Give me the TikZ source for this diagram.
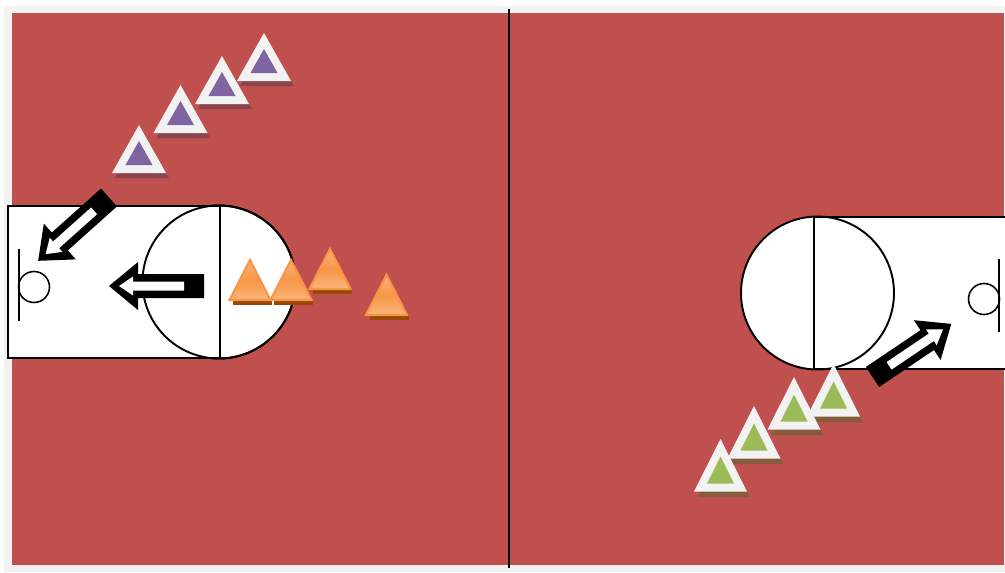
\documentclass[tikz,border=0pt]{standalone}
\usepackage{tikz}
\definecolor{courtred}{HTML}{C0504D}
\definecolor{framegrey}{HTML}{F2F2F2}
\definecolor{purplecone}{HTML}{8064A2}
\definecolor{purpleshadow}{HTML}{8A4450}
\definecolor{greencone}{HTML}{9BBB59}
\definecolor{greenshadow}{HTML}{875C3E}
\definecolor{orangecone}{HTML}{F79646}
\definecolor{orangelight}{HTML}{FBB57F}
\definecolor{orangeshadow}{HTML}{984807}
\tikzset{
  court/.style={draw=black,fill=white,line width=1.1pt},
  courtline/.style={black,line width=1.1pt},
  goalline/.style={black,line width=.9pt},
  passarrow/.pic={
    \fill[black] (0,-12)--(66,-12)--(66,-24)--(95,0)--(66,24)--(66,12)--(0,12)--cycle;
    \fill[white] (20,-4.5)--(71,-4.5)--(71,-9.5)--(85,0)--(71,9.5)--(71,4.5)--(20,4.5)--cycle;
  }
}
\begin{document}
\begin{tikzpicture}[x=0.02cm,y=-0.02cm]
\useasboundingbox (0,0) rectangle (1005,572);
% court
\fill[framegrey] (4,6) rectangle (1005,572);
\fill[courtred] (12,13) rectangle (1004,565);
\draw[black,line width=1.1pt] (509,9)--(509,568);
% left end
\draw[court] (219,282) circle (76.5);
\draw[court] (220,206)--(8,206)--(8,358)--(220,358);
\draw[court,fill=none] (219,282) circle (76.5);
\draw[courtline] (220,206)--(220,358);
\draw[goalline] (19,249)--(19,321);
\draw[goalline] (34,287) circle (15.5);
% right end
\fill[white] (814,217) rectangle (1005,369);
\draw[court] (817.5,293) circle (76.5);
\draw[courtline] (814,217)--(1005,217);
\draw[courtline] (814,369)--(1005,369);
\draw[courtline] (814,217)--(814,369);
\draw[goalline] (999,259)--(999,332);
\draw[goalline] (984,299) circle (15.5);
% purple cones
\foreach \cx/\cy in {264/33,222/56,180.5/85,139/125}{
  \fill[purpleshadow] (\cx+3-27,\cy+53)--(\cx+3+27,\cy+53)--(\cx+3+27-3,\cy+48)--(\cx+3-27+3,\cy+48)--cycle;
  \fill[framegrey] (\cx,\cy)--(\cx+27,\cy+48)--(\cx-27,\cy+48)--cycle;
  \fill[purplecone] (\cx,\cy+16)--(\cx+13.5,\cy+40)--(\cx-13.5,\cy+40)--cycle;
}
% green cones
\foreach \cx/\cy in {833.5/364,794/377,754/406,720.5/439}{
  \fill[greenshadow] (\cx+3-26,\cy+58)--(\cx+3+26,\cy+58)--(\cx+3+26-3,\cy+52)--(\cx+3-26+3,\cy+52)--cycle;
  \fill[framegrey] (\cx,\cy)--(\cx+26.5,\cy+52.5)--(\cx-26.5,\cy+52.5)--cycle;
  \fill[greencone] (\cx,\cy+17.5)--(\cx+13.5,\cy+44.5)--(\cx-13.5,\cy+44.5)--cycle;
}
% orange cones
\foreach \cx/\cy in {250/258,291/258,330/247,386.5/273}{
  \fill[orangeshadow] (\cx-17,\cy+42)--(\cx+22,\cy+42)--(\cx+22,\cy+47)--(\cx-17,\cy+47)--cycle;
  \shade[top color=orangelight,bottom color=orangelight,middle color=orangecone,draw=orangecone,line width=1.2pt]
    (\cx,\cy+2)--(\cx+20.5,\cy+42)--(\cx-20.5,\cy+42)--cycle;
}
% arrows
\pic[rotate=221.8] (passleft) at (109,197.5) {passarrow};
\pic[rotate=180] (passmiddle) at (204,286) {passarrow};
\pic[rotate=34] (passright) at (872.5,377) {passarrow};
\end{tikzpicture}
\end{document}
